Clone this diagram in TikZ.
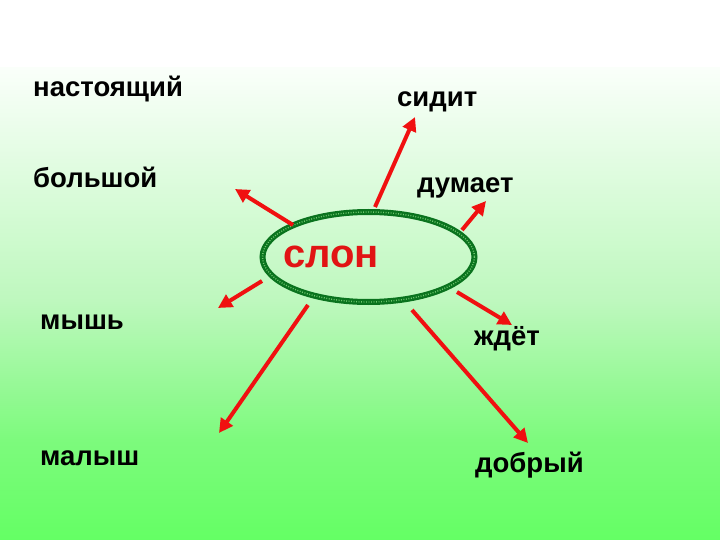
\documentclass[tikz,border=0pt]{standalone}
\usepackage{fontspec}
\setmainfont{Liberation Sans}
\usetikzlibrary{arrows.meta}
\definecolor{bgtop}{RGB}{250,255,250}
\definecolor{bgmid}{RGB}{190,248,190}
\definecolor{bglow}{RGB}{125,250,125}
\definecolor{bgbot}{RGB}{100,255,100}
\definecolor{arrowred}{RGB}{240,16,16}
\definecolor{ringdark}{RGB}{10,115,30}
\definecolor{ringlight}{RGB}{110,200,110}
\definecolor{wordred}{RGB}{225,20,20}
\pgfdeclareverticalshading{bgshade}{100bp}{color(0bp)=(bgbot); color(25bp)=(bgbot); color(35.6bp)=(bglow); color(50.4bp)=(bgmid); color(75bp)=(bgtop); color(100bp)=(bgtop)}
\tikzset{
  word/.style={anchor=base west, inner sep=0pt, font=\fontsize{27.5}{32}\selectfont\bfseries, text=black},
  arr/.style={draw=arrowred, line width=4pt, -{Triangle[length=14pt,width=14pt]}, fill=arrowred},
}
\begin{document}
\begin{tikzpicture}[x=1pt,y=-1pt]
\useasboundingbox (0,0) rectangle (720,540);
\fill[white] (0,0) rectangle (720,69);
\shade[shading=bgshade] (0,68) rectangle (720,540);
% ring
\draw[ringdark, line width=6pt] (368.5,257) ellipse [x radius=106, y radius=45];
\draw[ringlight, line width=1.4pt, dash pattern=on 0.9pt off 1.6pt] (368.5,257) ellipse [x radius=106, y radius=45];
\node[anchor=base west, inner sep=0pt, font=\fontsize{40}{44}\selectfont\bfseries, text=wordred] (slon) at (283,267) {слон};
% words
\node[word] (nast) at (33,97) {настоящий};
\node[word] (bol) at (33,188) {большой};
\node[word] (sid) at (397,107) {сидит};
\node[word] (dum) at (417,193) {думает};
\node[word] (mysh) at (40,329) {мышь};
\node[word] (zhd) at (474,345) {ждёт};
\node[word] (mal) at (40,465) {малыш};
\node[word] (dob) at (475,472) {добрый};
% arrow endpoints
\coordinate (s1) at (375,207); \coordinate (t1) at (415,117);
\coordinate (s2) at (462,230); \coordinate (t2) at (486,201);
\coordinate (s3) at (293,225); \coordinate (t3) at (235,189);
\coordinate (s4) at (262,281); \coordinate (t4) at (218,308);
\coordinate (s5) at (308,305); \coordinate (t5) at (219,433);
\coordinate (s6) at (457,292); \coordinate (t6) at (512,325);
\coordinate (s7) at (412,310); \coordinate (t7) at (528,443);
\draw[arr] (s1) -- (t1);
\draw[arr] (s2) -- (t2);
\draw[arr] (s3) -- (t3);
\draw[arr] (s4) -- (t4);
\draw[arr] (s5) -- (t5);
\draw[arr] (s6) -- (t6);
\draw[arr] (s7) -- (t7);
\end{tikzpicture}
\end{document}
